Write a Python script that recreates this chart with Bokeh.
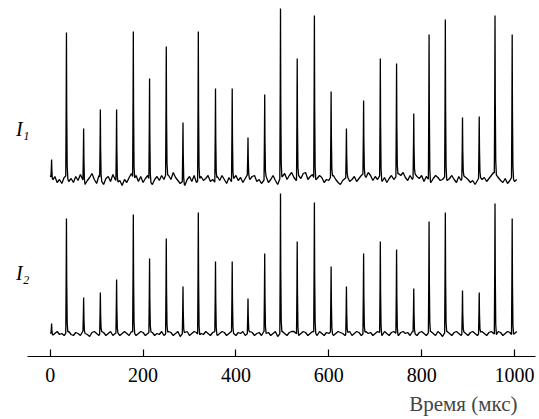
import numpy as np
from bokeh.plotting import figure
from bokeh.models import Title, Range1d, FixedTicker
from bokeh.embed import file_html
from bokeh.resources import INLINE

# ---- data ----
peak_times = [3, 35, 72, 108, 143, 179, 214, 250, 286, 319, 356, 392, 426, 462,
              496, 532, 569, 605, 638, 675, 711, 746, 783, 816, 851, 888, 924, 958, 995]
i1_heights = [18, 145, 49, 68, 68, 146, 99, 131, 55, 146, 89, 89, 40, 83,
              169, 119, 162, 86, 49, 77, 119, 114, 64, 143, 158, 60, 61, 162, 143]
i2_heights = [10, 115, 36, 41, 54, 119, 75, 95, 47, 121, 72, 72, 35, 80,
              140, 92, 131, 67, 47, 80, 92, 84, 45, 112, 121, 43, 41, 130, 115]

noise_step = 5  # µs between baseline samples
i1_noise = [2, -3, 1, -5, -2, -6, 0, 2, -4, -1,
            -5, 1, -3, 3, -2, -7, -3, 0, 4, -2,
            -6, 2, -3, -7, -1, 1, -4, 3, -2, -5,
            -3, -8, -2, -5, 0, 4, -2, 2, -4, 1,
            -5, -1, 2, -4, -7, -2, 1, -3, 2, -2,
            4, 2, -2, 5, 0, -3, -6, -4, -8, -2,
            1, -4, 2, -5, -2, 1, -3, -1, 2, -4,
            -2, -5, 1, -3, 2, -2, -6, 0, -4, -1,
            2, -3, 0, -5, -1, 3, -2, 1, 2, -4,
            -2, -6, -3, 1, -5, -2, 2, -3, -7, -1,
            1, 4, -2, 2, 5, 0, -3, 2, -1, 4,
            5, -2, 1, 3, -3, -1, 2, 0, -5, -2,
            -3, 1, 2, -2, -5, -7, -3, -1, 1, -4,
            -2, 1, -4, -1, 2, 4, 0, 5, 2, -3,
            1, -2, 2, -4, 0, -5, -1, 2, -2, 1,
            4, 2, 5, 0, -3, 2, -2, 4, 1, -1,
            2, -4, 1, -2, -5, -1, 2, 0, -3, -2,
            1, -3, -1, 2, -2, -5, 1, -3, 2, 0,
            -2, -5, -3, -7, -3, 1, -2, 0, -4, -1,
            2, 5, 3, 0, -3, -5, -1, -6, -3, 1,
            -4, -2]
i2_noise = [1, -2, 0, 2, -1, 0, -2, 1, 2, -1,
            -2, 1, 0, -2, 2, 0, -1, -3, 1, 2,
            0, -2, 2, 1, -2, 0, 2, -2, 0, 1,
            -2, 0, 2, 0, -2, 2, 1, -2, 0, 2,
            1, -2, 0, 2, 1, -2, 0, -1, 2, -2,
            0, 2, 1, -2, 0, 2, -3, 0, 1, 2,
            -2, 0, 2, 1, -2, 0, -1, 2, 0, -2,
            1, 2, -2, 0, 2, 1, -2, 0, 2, 0,
            -2, 1, 0, 2, -2, 0, 2, 1, -2, 0,
            1, -2, 2, 0, 1, -2, 0, 2, -3, 0,
            2, 0, -2, 1, 2, 2, 0, -2, 0, 2,
            1, -2, 0, 2, 1, -2, 2, 0, -2, 1,
            0, 2, -2, 0, 2, 1, 0, -2, 1, 2,
            -2, 0, 2, 1, -2, 0, 2, 0, 1, -2,
            0, 2, 1, -2, 2, 0, -2, 1, 2, 0,
            -2, 1, 2, 0, 1, -2, 2, 0, -2, 1,
            2, 0, -2, 1, 2, 0, -2, 2, 0, -3,
            1, 2, 0, -2, 1, 2, 0, -2, 2, 0,
            -2, 1, 2, 0, -2, 1, 2, 0, -2, 1,
            2, 0, -2, 2, 1, -2, 0, 2, 1, -2,
            0, 2]
x_ticks = [0, 200, 400, 600, 800, 1000]
trace_names = ["I\u2081", "I\u2082"]
x_title = "Время (мкс)"

# ---- layout / style ----
I1_BASE = 179
I2_BASE = 23
I1_LABEL_Y = 228
I2_LABEL_Y = 84
PULSE_OFFS = [-1.5, -0.6, 0.0, 0.6, 1.6, 3.0]
PULSE_FRAC = [0.0, 0.5, 1.0, 0.45, 0.08, 0.0]
SERIF = "Liberation Serif"


def build_trace(times, heights, noise, base):
    nt = np.arange(len(noise)) * noise_step
    nv = np.array(noise, dtype=float)
    keep = np.ones(len(nt), dtype=bool)
    for t in times:
        keep &= ~((nt > t + PULSE_OFFS[0]) & (nt < t + PULSE_OFFS[-1]))
    xs = list(nt[keep])
    ys = list(nv[keep])
    for t, h in zip(times, heights):
        for o, f in zip(PULSE_OFFS, PULSE_FRAC):
            b = float(np.interp(t + o, nt, nv))
            xs.append(t + o)
            ys.append(b * (1 - f) + f * h)
    order = np.argsort(xs, kind="stable")
    xs = np.array(xs)[order]
    ys = np.array(ys)[order] + base
    return xs, ys


p = figure(width=539, height=419,
           x_range=Range1d(-48.9, 1045.2), y_range=Range1d(0, 356),
           output_backend="svg", toolbar_location=None,
           min_border_left=27, min_border_right=4,
           min_border_top=0, min_border_bottom=63)
p.grid.visible = False
p.outline_line_color = None
p.background_fill_color = "white"
p.border_fill_color = "white"

x1, y1 = build_trace(peak_times, i1_heights, i1_noise, I1_BASE)
x2, y2 = build_trace(peak_times, i2_heights, i2_noise, I2_BASE)
p.line(x1, y1, line_color="black", line_width=1.3)
p.line(x2, y2, line_color="black", line_width=1.3)

ax = p.xaxis[0]
ax.ticker = FixedTicker(ticks=x_ticks)
ax.major_tick_in = 7
ax.major_tick_out = 0
ax.minor_tick_line_color = None
ax.axis_line_width = 1.2
ax.major_tick_line_width = 1.2
ax.major_label_text_font = SERIF
ax.major_label_text_font_size = "20px"
ax.major_label_text_color = "black"
ax.major_label_standoff = 11

ay = p.yaxis[0]
ay.ticker = FixedTicker(ticks=[I1_LABEL_Y, I2_LABEL_Y])
ay.major_label_overrides = {I1_LABEL_Y: trace_names[0], I2_LABEL_Y: trace_names[1]}
ay.axis_line_color = None
ay.major_tick_line_color = None
ay.minor_tick_line_color = None
ay.major_tick_out = 0
ay.major_tick_in = 0
ay.major_label_standoff = -2
ay.major_label_orientation = "horizontal"
ay.major_label_text_font = SERIF
ay.major_label_text_font_style = "italic"
ay.major_label_text_font_size = "20px"
ay.major_label_text_color = "black"

# small spacer between tick labels and the axis title
p.add_layout(Title(text=" ", text_font_size="1px", standoff=0), "below")
p.add_layout(Title(text=x_title, align="right",
                   text_font=SERIF, text_font_size="21px",
                   text_font_style="normal", standoff=4, offset=18), "below")

open("out.html", "w").write(file_html(p, INLINE))
